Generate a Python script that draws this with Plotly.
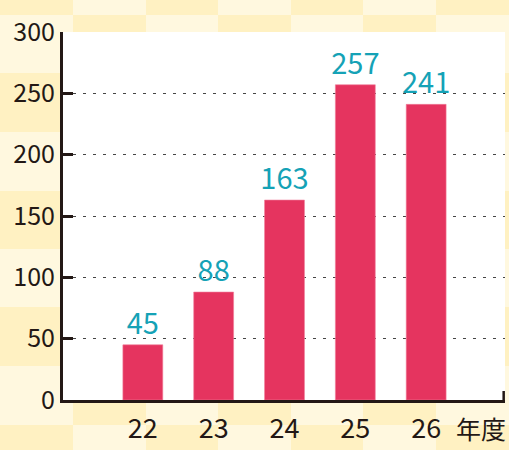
import plotly.graph_objects as go

categories = ["22", "23", "24", "25", "26"]
values = [45, 88, 163, 257, 241]
value_labels = ["45", "88", "163", "257", "241"]
y_ticks = [0, 50, 100, 150, 200, 250, 300]
unit_label = "年度"

W, H = 509, 450
DARK = "#FFF1C2"
LIGHT = "#FFF8DF"
INK = "#231815"
FONT = "Noto Sans CJK JP"

xs = list(range(len(categories)))

fig = go.Figure()
fig.add_trace(go.Bar(
    x=xs, y=values, width=0.563,
    marker=dict(color="#E5345F", line=dict(color="#F07C98", width=0.6)),
    text=value_labels, textposition="outside", constraintext="none",
    textfont=dict(family=FONT, size=29, color="#15A2B6", weight=400),
    cliponaxis=False,
))

L, R, T, B = 63, 4, 32, 50
pw = W - L - R
ph = H - T - B

# checkered background (figure pixel grid converted to plot-paper coords)
xb = [0, 73, 146, 218, 291, 363, 436, 509]
yb = [0, 15, 73, 132, 191, 249, 307, 366, 425, 450]
shapes = []
for i in range(len(yb) - 1):
    for j in range(len(xb) - 1):
        col = DARK if (i + j) % 2 == 0 else LIGHT
        shapes.append(dict(type="rect", xref="paper", yref="paper", layer="below",
                           x0=(xb[j] - L) / pw, x1=(xb[j + 1] - L) / pw,
                           y0=(H - B - yb[i + 1]) / ph, y1=(H - B - yb[i]) / ph,
                           line=dict(width=0), fillcolor=col))
# white plot area
shapes.append(dict(type="rect", xref="paper", yref="paper", layer="below",
                   x0=0, x1=1.0, y0=0, y1=1, line=dict(width=0), fillcolor="white"))
# right end tick of x axis
shapes.append(dict(type="line", xref="paper", yref="paper", x0=0.997, x1=0.997, y0=0, y1=9 / ph,
                   line=dict(color=INK, width=2.5)))

fig.update_layout(
    width=W, height=H,
    margin=dict(l=L, r=R, t=T, b=B),
    paper_bgcolor=LIGHT, plot_bgcolor="rgba(0,0,0,0)",
    shapes=shapes, showlegend=False,
    font=dict(family=FONT, color=INK),
    annotations=[dict(x=4.39, y=0, xref="x", yref="paper", xanchor="left", yanchor="top",
                      yshift=-8, text=unit_label, showarrow=False,
                      font=dict(family=FONT, size=25, color=INK, weight=400))],
)
fig.update_xaxes(
    range=[-1.127, 5.113], tickvals=xs, ticktext=categories, automargin=False,
    showgrid=False, zeroline=False, showline=True, linecolor=INK, linewidth=3,
    ticks="", tickfont=dict(family=FONT, size=27, color=INK, weight=400), ticklabelstandoff=3,
)
fig.update_yaxes(
    range=[0, 300], tickvals=y_ticks, showgrid=True, gridcolor="#444444", gridwidth=1,
    griddash="3px,7px", zeroline=False, showline=True, linecolor=INK, linewidth=3,
    ticks="inside", ticklen=10, tickwidth=3, tickcolor=INK, automargin=False,
    tickfont=dict(family=FONT, size=25, color=INK, weight=400), ticklabelstandoff=0,
)

fig.write_html("out.html", config={"displayModeBar": False},
               post_script="document.body.style.margin='0';document.body.style.overflow='hidden';")
